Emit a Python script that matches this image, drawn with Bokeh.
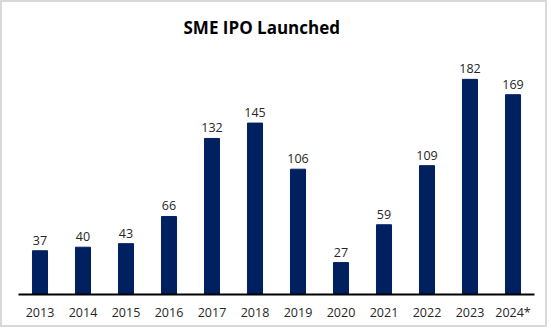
from bokeh.plotting import figure
from bokeh.models import ColumnDataSource, Range1d
from bokeh.core.properties import value
from bokeh.embed import file_html
from bokeh.resources import INLINE

years = ["2013", "2014", "2015", "2016", "2017", "2018", "2019", "2020", "2021", "2022", "2023", "2024*"]
ipos = [37, 40, 43, 66, 132, 145, 106, 27, 59, 109, 182, 169]

src = ColumnDataSource(dict(x=years, y=ipos, lab=[str(v) for v in ipos]))

p = figure(x_range=years, y_range=Range1d(0, 206.4), width=547, height=327,
           output_backend="svg", toolbar_location=None,
           min_border_left=16, min_border_right=15, min_border_top=48, min_border_bottom=35)
p.styles = {"border": "2px solid #d9d9d9"}
p.vbar(x="x", top="y", width=0.35, source=src, color="#002060")
p.text(x="x", y="y", text="lab", source=src, text_align="center", text_baseline="bottom",
       y_offset=-6, text_font_size=value("12.5px"), text_color="#262626",
       text_font=value("Open Sans"))

p.title.text = "SME IPO Launched"
p.title.align = "left"
p.title.offset = 165
p.title.standoff = 23
p.title.text_font = "Open Sans"
p.title.text_font_size = "17px"
p.title.text_font_style = "bold"
p.title.text_color = "#000000"

p.yaxis.visible = False
p.xgrid.visible = False
p.ygrid.visible = False
p.outline_line_color = None
ax = p.xaxis[0]
ax.axis_line_color = "#000000"
ax.axis_line_width = 2
ax.major_tick_line_color = None
ax.minor_tick_line_color = None
ax.major_tick_out = 0
ax.major_tick_in = 0
ax.major_label_standoff = 9
ax.major_label_text_font = "Open Sans"
ax.major_label_text_font_size = "12.5px"
ax.major_label_text_color = "#262626"
p.x_range.range_padding = 0

open("out.html", "w").write(file_html(p, INLINE))
